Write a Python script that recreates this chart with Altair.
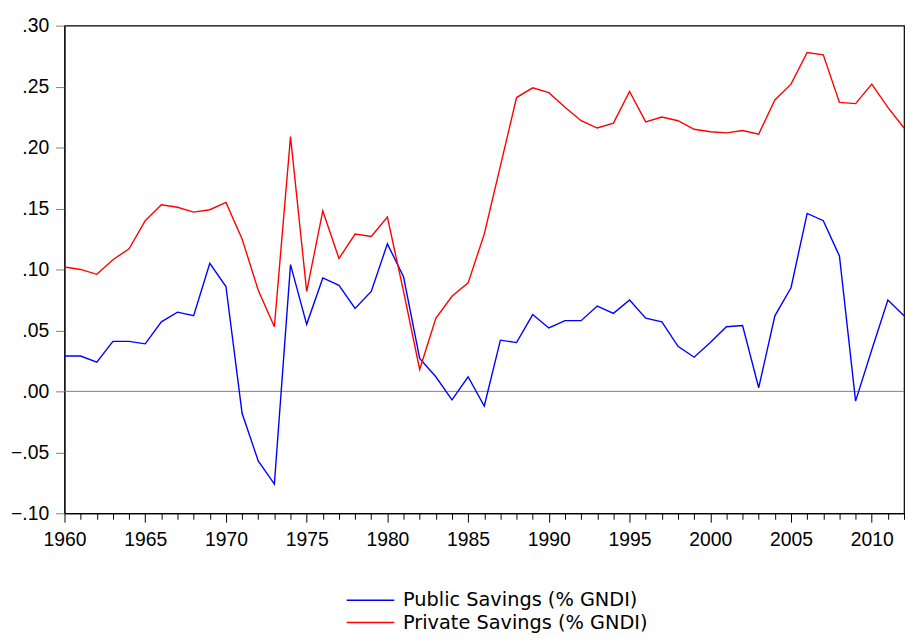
import altair as alt
import pandas as pd

years = list(range(1960, 2013))
public = [0.029, 0.029, 0.024, 0.041, 0.041, 0.039, 0.057, 0.065, 0.062, 0.105,
          0.086, -0.018, -0.057, -0.076, 0.104, 0.055, 0.093, 0.087, 0.068, 0.082,
          0.121, 0.094, 0.027, 0.012, -0.007, 0.012, -0.012, 0.042, 0.040, 0.063,
          0.052, 0.058, 0.058, 0.070, 0.064, 0.075, 0.060, 0.057, 0.037, 0.028,
          0.040, 0.053, 0.054, 0.003, 0.062, 0.085, 0.146, 0.140, 0.111, -0.008,
          0.034, 0.075, 0.062]
private = [0.102, 0.100, 0.096, 0.108, 0.117, 0.140, 0.153, 0.151, 0.147, 0.149,
           0.155, 0.125, 0.083, 0.053, 0.209, 0.082, 0.148, 0.109, 0.129, 0.127,
           0.143, 0.082, 0.018, 0.060, 0.078, 0.089, 0.129, 0.185, 0.241, 0.249,
           0.245, 0.233, 0.222, 0.216, 0.220, 0.246, 0.221, 0.225, 0.222, 0.215,
           0.213, 0.212, 0.214, 0.211, 0.239, 0.252, 0.278, 0.276, 0.237, 0.236,
           0.252, 0.233, 0.216]
series_names = ["Public Savings (% GNDI)", "Private Savings (% GNDI)"]
series_colors = ["#0000FF", "#FF0000"]
y_ticks = [-0.10, -0.05, 0.0, 0.05, 0.10, 0.15, 0.20, 0.25, 0.30]
zero_line = [0.0]

rows = []
for name, vals in zip(series_names, [public, private]):
    for yr, v in zip(years, vals):
        rows.append({"year": yr, "value": v, "series": name})
df = pd.DataFrame(rows)

x_scale = alt.Scale(domain=[1960, 2012], nice=False, zero=False)
y_scale = alt.Scale(domain=[-0.10, 0.30], nice=False, zero=False)

AX_FONT = "Liberation Sans, Arial, sans-serif"

x_axis = alt.Axis(
    values=years, title=None, grid=False,
    labelExpr="datum.value % 5 === 0 ? datum.value : ''",
    tickSize={"condition": {"test": "datum.value % 5 === 0", "value": 9}, "value": 6},
    labelFont=AX_FONT, labelFontSize=19.5, labelColor="#000000",
    labelPadding=9, labelFlush=False, labelOverlap=False,
    domainColor="#000000", tickColor="#000000",
)
y_axis = alt.Axis(
    values=y_ticks, title=None, grid=False,
    labelExpr="replace(format(datum.value, '.2f'), '0.', '.')",
    tickSize=9, tickColor="#808080",
    labelFont=AX_FONT, labelFontSize=19.5, labelColor="#000000",
    labelPadding=7, labelFlush=False, labelOverlap=False,
    domainColor="#000000",
)

zero = alt.Chart(pd.DataFrame({"z": zero_line})).mark_rule(
    color="#808080", strokeWidth=1
).encode(y=alt.Y("z:Q", scale=y_scale, axis=y_axis))

lines = alt.Chart(df).mark_line(strokeWidth=1.4).encode(
    x=alt.X("year:Q", scale=x_scale, axis=x_axis),
    y=alt.Y("value:Q", scale=y_scale, axis=y_axis),
    color=alt.Color(
        "series:N",
        scale=alt.Scale(domain=series_names, range=series_colors),
        sort=series_names,
        legend=alt.Legend(
            title=None, orient="none", legendX=299, legendY=570,
            direction="vertical",
            symbolType="M-5,0H5", symbolSize=92, symbolStrokeWidth=1.5,
            labelFont="DejaVu Sans, sans-serif",
            labelFontSize=19.5, labelColor="#000000",
            labelOffset=23, rowPadding=1.5, padding=0, labelLimit=0,
        ),
    ),
)

chart = alt.layer(zero, lines).properties(
    width=847, height=492,
    autosize=alt.AutoSizeParams(type="none"),
    padding={"left": 57, "top": 15, "right": 2, "bottom": 118},
    background="white",
).configure_view(stroke="#000000", strokeWidth=1.2)

chart.save("out.html", embed_options={"renderer": "svg", "actions": False})
